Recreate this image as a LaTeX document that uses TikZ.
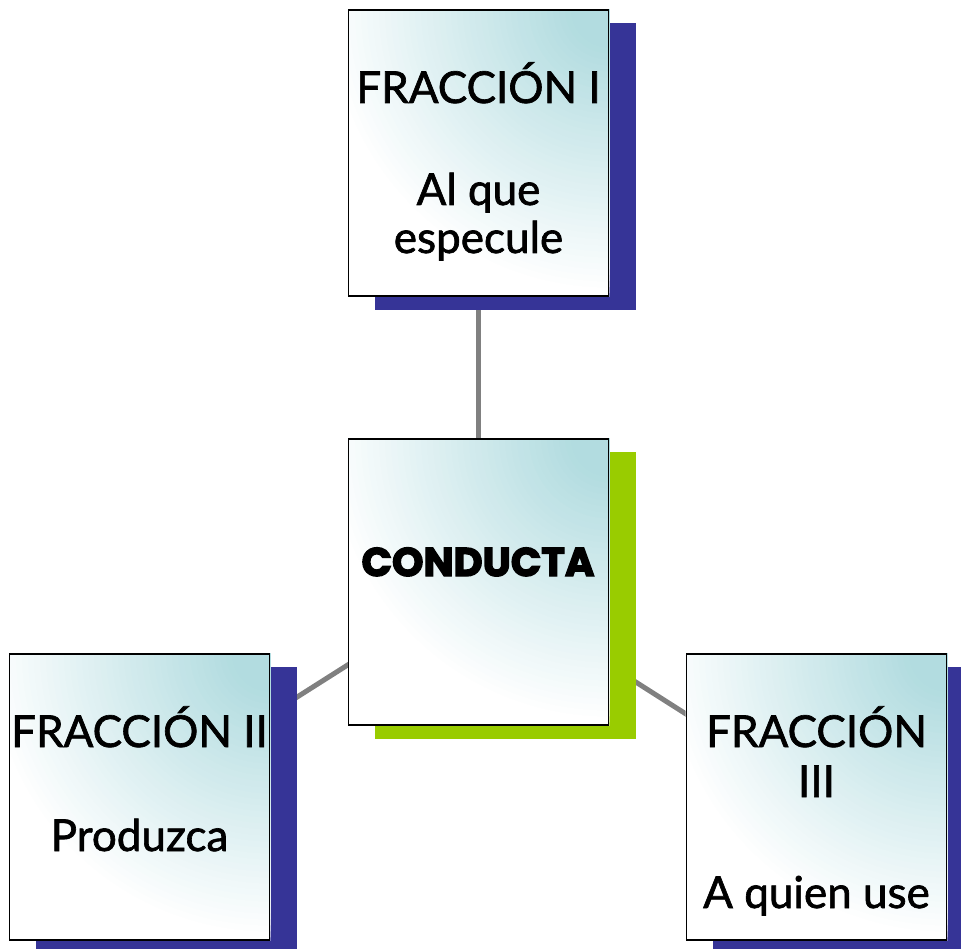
\documentclass[tikz,border=0pt]{standalone}
\usepackage{fontspec}
\setmainfont{Lato}
\newfontfamily\bodyfont{Lato}[FakeBold=1.5]
\newfontfamily\heavyfont{Poppins}[FakeBold=3.5]
\definecolor{navyshadow}{HTML}{363497}
\definecolor{greenshadow}{HTML}{99CC00}
\definecolor{tealtint}{HTML}{B2DCE0}
\definecolor{linkgray}{HTML}{808080}
\pgfdeclarelayer{bg}
\pgfdeclarelayer{mid}
\pgfsetlayers{bg,mid,main}
\begin{document}
\begin{tikzpicture}[x=1pt,y=-1pt,
  box/.style={draw=black, line width=1.5pt, minimum width=260pt, minimum height=286pt,
    inner sep=0pt},
  shadowbox/.style={minimum width=261pt, minimum height=287pt, inner sep=0pt, fill=#1},
  link/.style={draw=linkgray, line width=5pt},
  lbl/.style={font=\bodyfont\fontsize{44}{50}\selectfont, anchor=base, inner sep=0pt},
  heavy/.style={font=\heavyfont\bfseries\fontsize{40}{48}\selectfont, anchor=base, inner sep=0pt}]
\useasboundingbox (0,0) rectangle (961,949);
% boxes (outline on top)
\node[box] (top)   at (478.5,153) {};
\node[box] (cen)   at (478.5,582) {};
\node[box] (left)  at (139.5,797) {};
\node[box] (right) at (816.5,797) {};
% connectors (bottom layer)
\begin{pgfonlayer}{bg}
  \draw[link] (top.center) -- (cen.center);
  \draw[link] (left.center) -- (cen.center);
  \draw[link] (right.center) -- (cen.center);
\end{pgfonlayer}
% shadows and box fills
\begin{pgfonlayer}{mid}
  \node[shadowbox=navyshadow]  (topsh)   at (505,166.5) {};
  \node[shadowbox=greenshadow] (censh)   at (505,595.5) {};
  \node[shadowbox=navyshadow]  (leftsh)  at (166,810.5) {};
  \node[shadowbox=navyshadow]  (rightsh) at (843,810.5) {};
  \foreach \b in {top,cen,left,right}{
    \begin{scope}
      \clip (\b.south west) rectangle (\b.north east);
      \fill[white] (\b.south west) rectangle (\b.north east);
      \foreach \r in {290,284,...,8}{
        \pgfmathsetmacro{\p}{max(0,min(100,(285-\r)/245*100))}
        \fill[tealtint!\p!white] (\b.north east) circle (\r pt);
      }
    \end{scope}
  }
\end{pgfonlayer}
% texts
\node[lbl] (t1) at (478.5,103) {FRACCIÓN I};
\node[lbl] (t2) at (478.5,205) {Al que};
\node[lbl] (t3) at (478.5,253) {especule};
\node[heavy] (c1) at (478,576) {CONDUCTA};
\node[lbl] (l1) at (139.5,747) {FRACCIÓN II};
\node[lbl] (l2) at (139.5,851) {Produzca};
\node[lbl] (r1) at (816.5,747) {FRACCIÓN};
\node[lbl] (r2) at (816.5,797) {III};
\node[lbl] (r3) at (816.5,908) {A quien use};
\end{tikzpicture}
\end{document}
